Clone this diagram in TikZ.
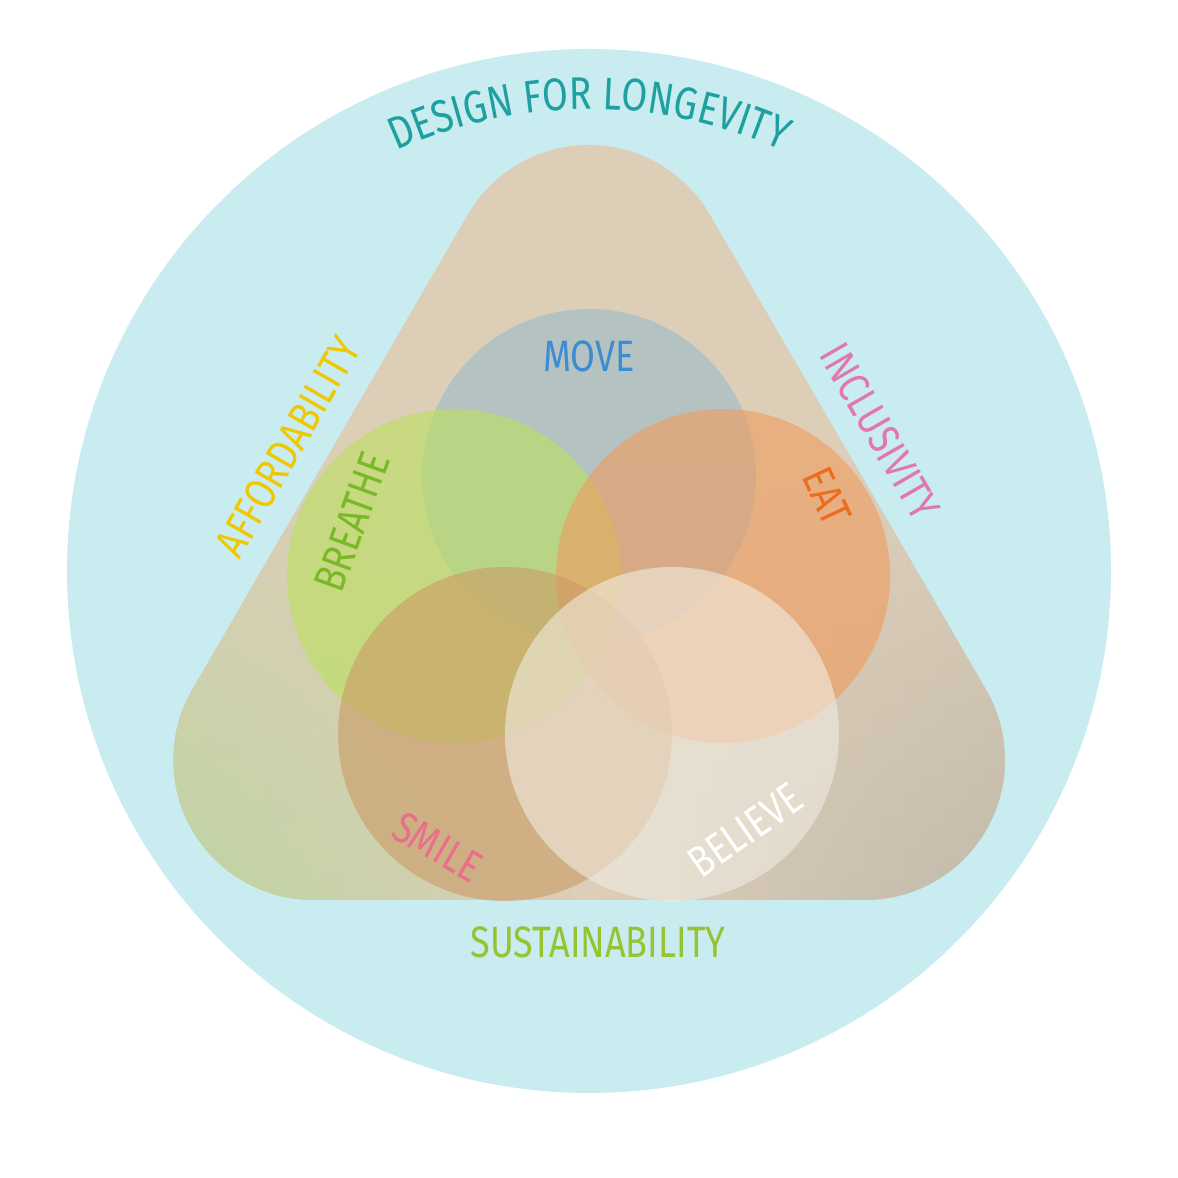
\documentclass[tikz,border=0pt]{standalone}
\usepackage{fontspec}
\setmainfont{Fira Sans}[FakeStretch=0.82]
\usetikzlibrary{decorations.text,fadings}
\definecolor{bg}{RGB}{200,236,240}
\definecolor{tan}{RGB}{221,206,184}
\definecolor{trgreen}{RGB}{180,215,155}
\definecolor{trgray}{RGB}{185,180,168}
\definecolor{cmove}{RGB}{153,188,202}
\definecolor{cbreathe}{RGB}{187,225,93}
\definecolor{ceat}{RGB}{240,155,93}
\definecolor{csmile}{RGB}{203,155,101}
\definecolor{cbelieve}{RGB}{240,236,225}
\definecolor{tteal}{RGB}{30,160,160}
\definecolor{tblue}{RGB}{60,140,210}
\definecolor{tgreen}{RGB}{120,185,40}
\definecolor{torange}{RGB}{235,110,30}
\definecolor{tpink}{RGB}{235,110,140}
\definecolor{tyellow}{RGB}{240,200,0}
\definecolor{tincl}{RGB}{225,120,170}
\definecolor{tsust}{RGB}{150,195,50}
\tikzset{venn/.style={circle,minimum size=33.4mm,inner sep=0pt,fill opacity=0.6},
lab/.style={font=\fontsize{12.5}{13}\selectfont,inner sep=0pt}}
\begin{document}
\begin{tikzpicture}[x=0.1mm,y=0.1mm]
\useasboundingbox (0,0) rectangle (1178,1178);
\node[circle,fill=bg,minimum size=104.4mm,inner sep=0pt] (big) at (589,607) {};
\def\tri{(313,278) -- (865,278) arc (-90:30:140) -- (710,963) arc (30:150:140) -- (192,488) arc (150:270:140) -- cycle}
\fill[tan] \tri;
\begin{scope}
\clip \tri;
\shade[left color=trgreen,right color=trgray,middle color=tan,path fading=north] (60,270) rectangle (1120,720);
\end{scope}
\node[venn,fill=cmove] (move) at (589,702) {};
\node[venn,fill=cbreathe] (breathe) at (454,602) {};
\node[venn,fill=ceat] (eat) at (723,602) {};
\node[venn,fill=csmile] (smile) at (505,444) {};
\node[venn,fill=cbelieve] (believe) at (672,444) {};
\node[lab,text=tblue] (tmove) at (589,822) {MOVE};
\node[lab,text=tgreen,rotate=70] (tbreathe) at (352,656) {BREATHE};
\node[lab,text=torange,rotate=-65] (teat) at (827,682) {EAT};
\node[lab,text=tpink,rotate=-30] (tsmile) at (438,331) {SMILE};
\node[lab,text=white,rotate=35] (tbelieve) at (745,348) {BELIEVE};
\node[lab,text=tyellow,rotate=60] (taff) at (288,731) {AFFORDABILITY};
\node[lab,text=tincl,rotate=-60] (tinc) at (880,746) {INCLUSIVITY};
\node[lab,text=tsust] (tsus) at (598,236) {SUSTAINABILITY};
\path[decorate,decoration={text along path,text align=center,
 text={|\fontsize{13}{13}\selectfont\color{tteal}|DESIGN FOR LONGEVITY}}]
 (589,607) ++(135:462) arc (135:45:462);
\end{tikzpicture}
\end{document}
